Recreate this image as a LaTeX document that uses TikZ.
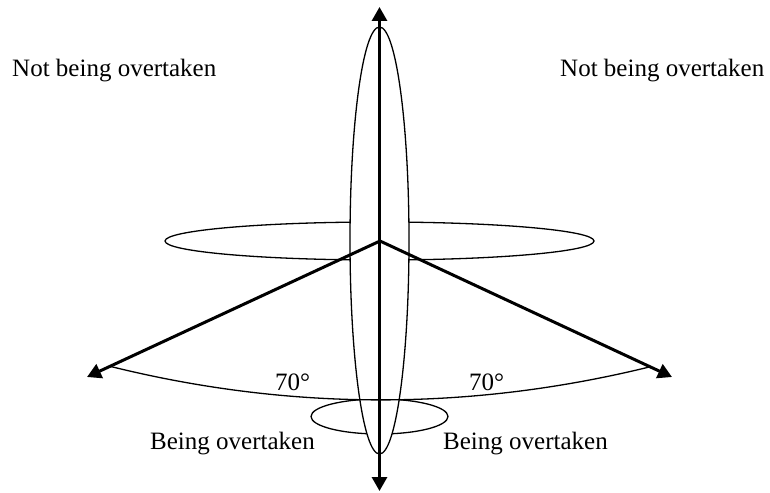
\documentclass[tikz,border=0pt]{standalone}
\usepackage{fontspec}
\setmainfont{Liberation Serif}
\usetikzlibrary{arrows.meta,shapes.geometric,calc}
\begin{document}
\begin{tikzpicture}[x=1pt,y=-1pt,
  thinline/.style={line width=1.3pt},
  thickline/.style={line width=3pt},
  tip/.style={-{Triangle[length=14pt,width=15pt]}},
  ell/.style={ellipse,draw,thinline,inner sep=0pt},
  lbl/.style={anchor=base west,inner sep=0pt,font=\fontsize{25}{30}\selectfont}]
\useasboundingbox (0,0) rectangle (770,492);
% ellipses
\node[ell,minimum width=429pt,minimum height=38pt] (hell) at (379.5,241) {};
\node[ell,minimum width=137pt,minimum height=35pt] (sell) at (379.5,416.5) {};
\node[ell,fill=white,minimum width=59pt,minimum height=427pt] (vell) at (379.5,240.5) {};
% key points
\coordinate (apex) at (380,241);
\coordinate (ltip) at (87,377);
\coordinate (rtip) at (672,377);
\coordinate (top) at (379.5,7);
\coordinate (bot) at (379.5,491);
\coordinate (la) at ($(apex)!0.9215!(ltip)$);
\coordinate (ra) at ($(apex)!0.925!(rtip)$);
% angle arc
\draw[thinline] (la) .. controls (290,411) and (470,411) .. (ra);
% V lines
\draw[thickline,tip] (apex) -- (ltip);
\draw[thickline,tip] (apex) -- (rtip);
% vertical axis
\draw[thickline,{Triangle[length=14pt,width=15pt]}-{Triangle[length=14pt,width=15pt]}] (bot) -- (top);
% labels
\node[lbl] (nl) at (12,77) {Not being overtaken};
\node[lbl] (nr) at (560,77) {Not being overtaken};
\node[lbl] (al) at (275,390) {70°};
\node[lbl] (ar) at (469,390) {70°};
\node[lbl] (bl) at (150,449) {Being overtaken};
\node[lbl] (br) at (443,449) {Being overtaken};
\end{tikzpicture}
\end{document}
